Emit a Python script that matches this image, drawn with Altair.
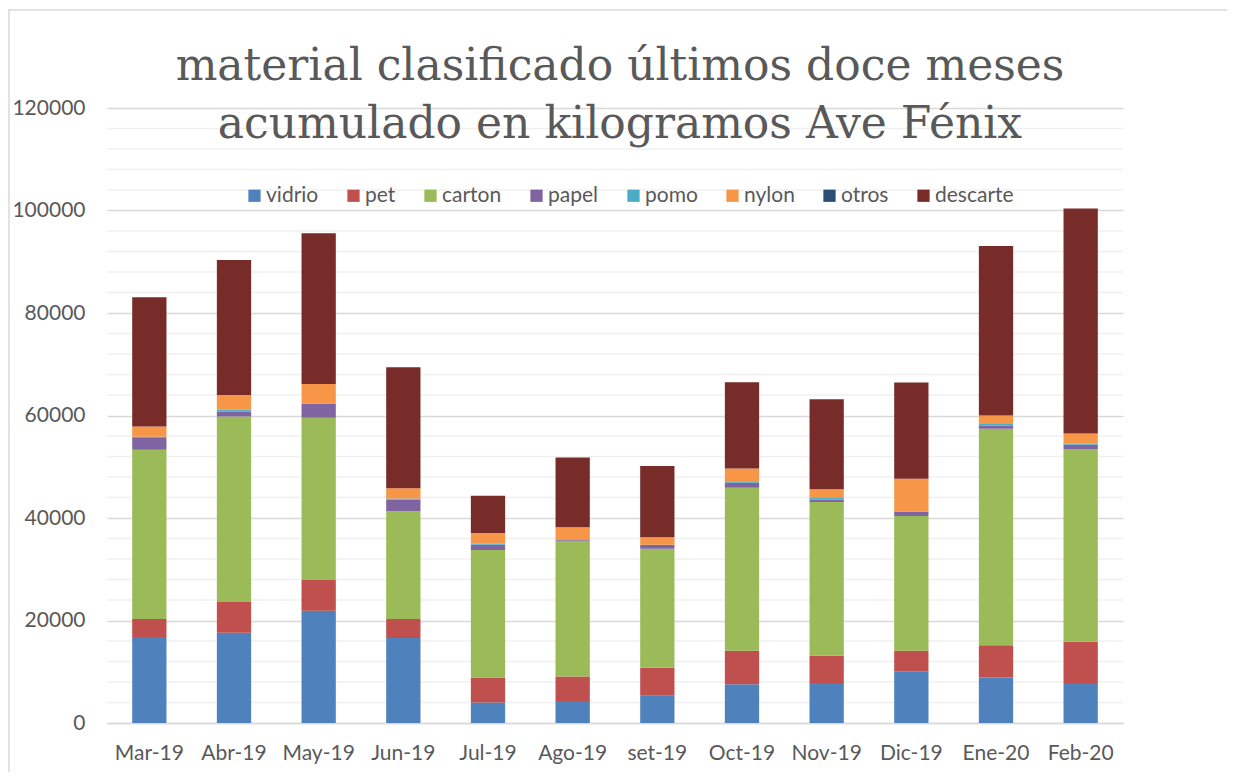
import altair as alt
import pandas as pd

months = ["Mar-19", "Abr-19", "May-19", "Jun-19", "Jul-19", "Ago-19",
          "set-19", "Oct-19", "Nov-19", "Dic-19", "Ene-20", "Feb-20"]
series_names = ["vidrio", "pet", "carton", "papel", "pomo", "nylon", "otros", "descarte"]
series_colors = ["#4F81BD", "#C0504D", "#9BBB59", "#8064A2", "#4BACC6", "#F79646", "#2C4D75", "#772C2A"]

vidrio = [16800, 17600, 21900, 16600, 4000, 4300, 5300, 7550, 7800, 10100, 8900, 7800]
pet = [3500, 6000, 6000, 3700, 4850, 4750, 5500, 6550, 5300, 4000, 6250, 8050]
carton = [33000, 36200, 31650, 21000, 24900, 26500, 23200, 31800, 30000, 26300, 42250, 37600]
papel = [2450, 1000, 2750, 2300, 1050, 150, 800, 1000, 500, 850, 650, 850]
pomo = [100, 350, 100, 200, 200, 0, 0, 250, 450, 0, 300, 200]
nylon = [2000, 2850, 3750, 2000, 2050, 2500, 1450, 2500, 1550, 6400, 1650, 2000]
otros = [0, 0, 0, 0, 0, 0, 0, 0, 0, 0, 0, 0]
descarte = [25200, 26350, 29400, 23600, 7300, 13600, 13900, 16850, 17550, 18800, 33050, 43900]

major_ticks = [0, 20000, 40000, 60000, 80000, 100000, 120000]
minor_ticks = [4000, 8000, 12000, 16000, 24000, 28000, 32000, 36000,
               44000, 48000, 52000, 56000, 64000, 68000, 72000, 76000,
               84000, 88000, 92000, 96000, 104000, 108000, 112000, 116000]

title_lines = ["material clasificado últimos doce meses",
               "acumulado en kilogramos Ave Fénix"]

all_series = [vidrio, pet, carton, papel, pomo, nylon, otros, descarte]
rows = []
for si, (name, vals) in enumerate(zip(series_names, all_series)):
    for m, v in zip(months, vals):
        rows.append({"mes": m, "material": name, "kg": v, "orden": si})
df = pd.DataFrame(rows)

W, H = 1016, 615
LABEL_FONT = "Lato"
GRAY = "#595959"

y_scale = alt.Scale(domain=[0, 120000], nice=False)
y_axis = alt.Axis(title=None, values=major_ticks, ticks=False, domain=False,
                  grid=True, gridColor="#D9D9D9", gridWidth=1.5,
                  labelFont=LABEL_FONT, labelFontSize=21, labelColor=GRAY,
                  labelPadding=22, format="d")

border = alt.Chart(pd.DataFrame({"b": [0]})).mark_rect(
    fill="transparent", stroke="#D9D9D9", strokeWidth=1.5
).encode(x=alt.value(-98), x2=alt.value(1125), y=alt.value(-98), y2=alt.value(690))

minor = alt.Chart(pd.DataFrame({"kg": minor_ticks})).mark_rule(
    color="#F0F0F0", strokeWidth=1.5
).encode(y=alt.Y("kg:Q", scale=y_scale, axis=y_axis))

bars = alt.Chart(df).mark_bar().encode(
    x=alt.X("mes:N", sort=months,
            scale=alt.Scale(paddingInner=0.595, paddingOuter=0.2975),
            axis=alt.Axis(title=None, labelAngle=0, ticks=False, domain=True,
                          domainColor="#D9D9D9", domainWidth=1.5,
                          labelFont=LABEL_FONT, labelFontSize=21, labelColor=GRAY,
                          labelPadding=19, grid=False)),
    y=alt.Y("kg:Q", stack="zero", scale=y_scale, axis=y_axis),
    color=alt.Color("material:N",
                    scale=alt.Scale(domain=series_names, range=series_colors),
                    legend=alt.Legend(title=None, orient="none", direction="horizontal",
                                      columns=8, legendX=137, legendY=77,
                                      symbolType="square", symbolSize=150,
                                      symbolStrokeWidth=0, labelFont=LABEL_FONT,
                                      labelFontSize=21, labelColor=GRAY,
                                      labelOffset=1, columnPadding=24)),
    order=alt.Order("orden:Q", sort="ascending"),
)

title = alt.Chart(pd.DataFrame({"t": [0]})).mark_text(
    text=title_lines, font="DejaVu Serif", fontSize=44, color=GRAY,
    align="center", baseline="alphabetic", lineHeight=58
).encode(x=alt.value(513), y=alt.value(-28))

chart = alt.layer(border, minor, bars, title).properties(
    width=W, height=H,
    padding={"left": 99, "top": 100, "right": 104, "bottom": 49},
    autosize=alt.AutoSizeParams(type="none"),
).configure(background="white").configure_view(stroke=None)

chart.save("out.html", embed_options={"renderer": "svg", "actions": False})
